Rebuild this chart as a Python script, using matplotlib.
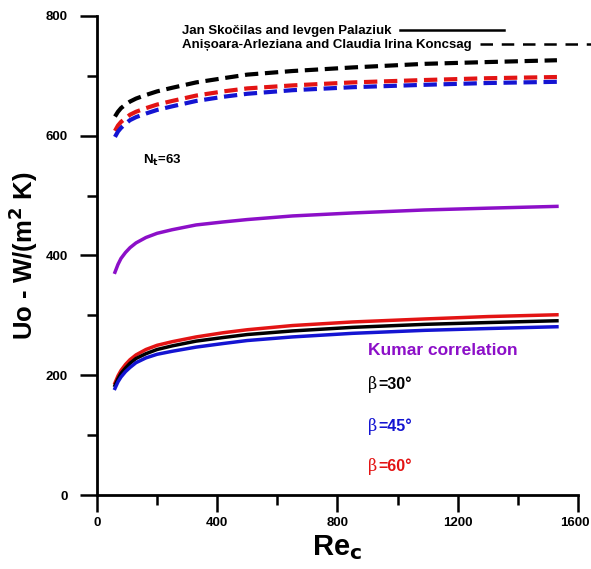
import matplotlib
matplotlib.use("Agg")
import matplotlib.pyplot as plt
from matplotlib.lines import Line2D
from matplotlib.ticker import MultipleLocator, FuncFormatter
from matplotlib.transforms import offset_copy, blended_transform_factory

plt.rcParams['font.family'] = ['Liberation Sans', 'DejaVu Sans']

# Reynolds number (coolant side)
re_c = [60, 70, 80, 95, 110, 130, 163, 200, 250, 330, 420, 500, 650, 850, 1090, 1300, 1530]

# Overall heat transfer coefficient, Koncsag model (dashed)
u_dash_30 = [632, 640, 646, 652, 657, 662, 668, 674, 680, 689, 696, 702, 708, 714, 720, 723, 726]
u_dash_60 = [608, 617, 623, 629, 635, 640, 646, 652, 658, 667, 674, 679, 684, 689, 693, 696, 698]
u_dash_45 = [598, 607, 613, 620, 626, 631, 637, 643, 649, 658, 665, 670, 676, 681, 685, 688, 690]

# Kumar correlation
u_kumar = [372, 385, 395, 405, 413, 421, 430, 437, 443, 451, 456, 460, 466, 471, 476, 479, 482]

# Skočilas / Palaziuk model (solid)
u_solid_60 = [187, 199, 208, 218, 226, 234, 243, 250, 256, 264, 271, 276, 283, 289, 294, 298, 301]
u_solid_30 = [183, 194, 203, 212, 220, 228, 236, 243, 249, 257, 263, 268, 274, 280, 285, 288, 291]
u_solid_45 = [178, 189, 197, 206, 213, 221, 229, 235, 240, 247, 253, 258, 264, 270, 275, 278, 281]

X_MAX = 1600
Y_MAX = 800

RED = '#e31414'
BLUE = '#1414d2'
PURPLE = '#8c0fc8'
BLACK = '#000000'

fig = plt.figure(figsize=(5.91, 5.69), dpi=100)
ax = fig.add_axes([0.164, 0.130, 0.814, 0.842])

dash = (0, (3.2, 1.6))
ax.plot(re_c, u_dash_30, color=BLACK, lw=3.0, linestyle=dash)
ax.plot(re_c, u_dash_60, color=RED, lw=3.0, linestyle=dash)
ax.plot(re_c, u_dash_45, color=BLUE, lw=3.0, linestyle=dash)

ax.plot(re_c, u_kumar, color=PURPLE, lw=2.5)

ax.plot(re_c, u_solid_60, color=RED, lw=2.5)
ax.plot(re_c, u_solid_30, color=BLACK, lw=2.5)
ax.plot(re_c, u_solid_45, color=BLUE, lw=2.5)

ax.set_xlim(0, X_MAX)
ax.set_ylim(0, Y_MAX)
for s in ('top', 'right'):
    ax.spines[s].set_visible(False)
for s in ('left', 'bottom'):
    ax.spines[s].set_linewidth(2.0)

ax.xaxis.set_major_locator(MultipleLocator(400))
ax.xaxis.set_minor_locator(MultipleLocator(200))
ax.yaxis.set_major_locator(MultipleLocator(200))
ax.yaxis.set_minor_locator(MultipleLocator(100))
# the label at the right end of the x axis is placed separately below
ax.xaxis.set_major_formatter(FuncFormatter(
    lambda v, p: '' if v >= X_MAX else f'{v:.0f}'))
ax.tick_params(which='major', direction='out', length=12, width=1.8,
               labelsize=9.5)
ax.tick_params(axis='y', which='major', pad=9)
ax.tick_params(axis='x', which='major', pad=4)
ax.tick_params(which='minor', direction='out', length=7, width=1.8)
for lab in ax.get_xticklabels() + ax.get_yticklabels():
    lab.set_fontweight('bold')

end_tr = offset_copy(blended_transform_factory(ax.transData, ax.transAxes),
                     fig=fig, x=-2.5, y=-16, units='points')
ax.text(X_MAX, 0, f'{X_MAX}', transform=end_tr, fontsize=9.5,
        fontweight='bold', ha='center', va='top', clip_on=False)

ax.set_xlabel('Re$_\\mathbf{c}$', fontsize=21, fontweight='bold', labelpad=3)
ax.set_ylabel('Uo - W/(m$^\\mathbf{2}$ K)', fontsize=18.5, fontweight='bold',
              labelpad=4)

# Annotations
ax.text(153, 559, 'N$_\\mathbf{t}$=63', fontsize=9.5, fontweight='bold',
        ha='left', va='center')
ax.text(900, 242, 'Kumar correlation', fontsize=12.5, fontweight='bold',
        color=PURPLE, ha='left', va='center')
for yv, lab, col in [(184, '=30°', BLACK), (114, '=45°', BLUE), (47, '=60°', RED)]:
    ax.text(900, yv, 'β', fontsize=11.5, color=col, ha='left', va='center',
            family=['DejaVu Serif'])
    ax.text(900, yv, lab, fontsize=11.5, fontweight='bold', color=col,
            ha='left', va='center',
            transform=offset_copy(ax.transData, fig=fig, x=7.5, y=0, units='points'))

# Model key at the top
W, H = 591.0, 569.0
fig.text(182 / W, 1 - 31 / H, 'Jan Skočilas and Ievgen Palaziuk', fontsize=9.5,
         fontweight='bold', ha='left', va='center')
fig.text(182 / W, 1 - 45 / H, 'Anișoara-Arleziana and Claudia Irina Koncsag',
         fontsize=9.5, fontweight='bold', ha='left', va='center')
fig.add_artist(Line2D([400 / W, 504 / W], [1 - 30 / H, 1 - 30 / H],
                      color=BLACK, lw=1.8, transform=fig.transFigure))
fig.add_artist(Line2D([480 / W, 591 / W], [1 - 44 / H, 1 - 44 / H],
                      color=BLACK, lw=1.8, linestyle=(0, (5, 3.5)),
                      transform=fig.transFigure))

fig.savefig('out.png', dpi=100)
